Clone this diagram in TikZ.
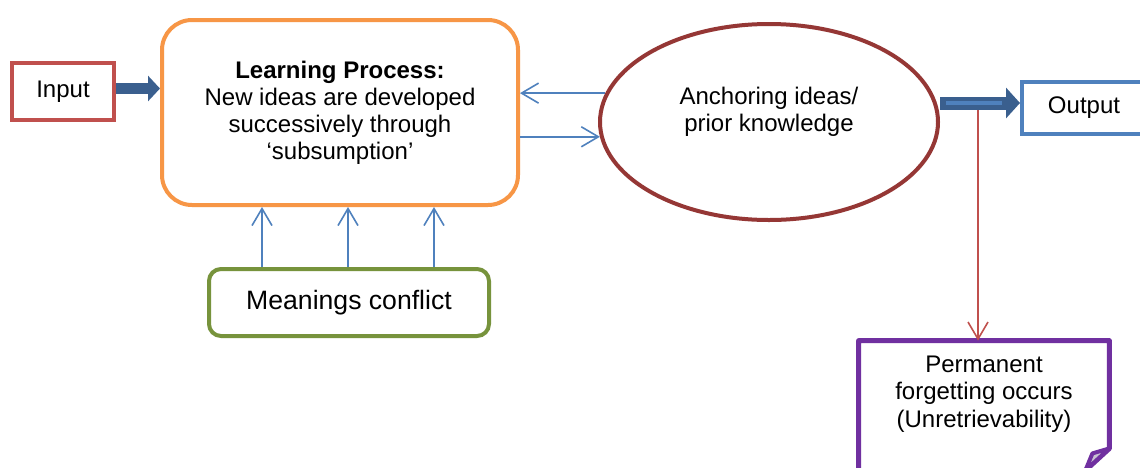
\documentclass[tikz,border=0pt]{standalone}
\usepackage{fontspec}
\setmainfont{Liberation Sans}
\usetikzlibrary{arrows.meta,shapes.geometric}
\definecolor{cRed}{HTML}{C0504D}
\definecolor{cOrange}{HTML}{F79646}
\definecolor{cMaroon}{HTML}{953735}
\definecolor{cGreen}{HTML}{77933C}
\definecolor{cBlue}{HTML}{4F81BD}
\definecolor{cNavy}{HTML}{3A5F8E}
\definecolor{cPurple}{HTML}{7030A0}
\definecolor{cFold}{HTML}{C9C2D3}
\tikzset{
  txt/.style={font=\fontsize{12}{13.5}\selectfont, align=center, inner sep=0pt},
  boxbase/.style={txt, draw, line width=2pt, fill=white},
  thinarrow/.style={draw=cBlue, line width=0.8pt, -{Straight Barb[length=8.5pt,width=10pt]}},
  redarrow/.style={draw=cRed, line width=0.8pt, -{Straight Barb[length=8.5pt,width=10pt]}},
  blockarrow/.style={draw=cNavy, line width=5.5pt, -{Triangle[length=6pt,width=12.5pt]}},
}
\begin{document}
\begin{tikzpicture}[x=0.5pt,y=-0.5pt]
\clip (0,0) rectangle (1140,467);
\useasboundingbox (0,0) rectangle (1140,467);
\fill[white] (0,0) rectangle (1140,467);

% boxes
\node[boxbase, draw=cRed, minimum width=51pt, minimum height=28.5pt] (input) at (63,91.5) {Input};
\node[boxbase, draw=cOrange, rounded corners=15pt, minimum width=178pt, minimum height=92.5pt] (learn) at (340,112.5)
  {\textbf{Learning Process:}\\New ideas are developed\\successively through\\‘subsumption’};
\node[ellipse, draw=cMaroon, line width=2pt, fill=white, inner sep=0pt, minimum width=169pt, minimum height=98pt,
  label={[txt, yshift=5pt]center:Anchoring ideas/\\prior knowledge}] (ell) at (769,122) {};
\node[boxbase, draw=cBlue, minimum width=62pt, minimum height=26pt] (out) at (1084,108) {Output};
\node[boxbase, draw=cGreen, rounded corners=6pt, minimum width=140pt, minimum height=33.5pt,
  font=\fontsize{13.3}{15}\selectfont] (mean) at (349,302.5) {Meanings conflict};
\node[txt, font=\fontsize{12}{13.75}\selectfont, minimum width=125pt, minimum height=53pt] (perm) at (984,394)
  {Permanent\\forgetting occurs\\(Unretrievability)};

% note-shaped outline with folded corner
\draw[cPurple, line width=2.5pt, line join=round]
  ([yshift=-20pt]perm.south west) -- (perm.north west) -- (perm.north east)
  -- ([yshift=-0.5pt]perm.south east) -- ++(-12pt,-11pt);
\draw[cPurple, line width=2pt, line join=round, fill=cFold]
  ([yshift=-0.5pt]perm.south east) -- ++(-8.5pt,-2.5pt) -- ++(-3.5pt,-8.5pt) -- cycle;

% block arrows
\draw[blockarrow] ([yshift=1.5pt]input.east) -- ([yshift=1.5pt]input.east -| learn.west);
\draw[blockarrow, line width=6.5pt, -{Triangle[length=7pt,width=15pt]}]
  ([yshift=2.5pt]ell.east |- out.west) -- ([yshift=2.5pt]out.west);
\draw[cBlue, line width=2pt]
  ([yshift=2.5pt,xshift=3pt]ell.east |- out.west) -- ([yshift=2.5pt,xshift=-9pt]out.west);

% thin connectors
\draw[thinarrow] (ell.170) -- (ell.170 -| learn.east);
\draw[thinarrow] (learn.east |- ell.185.5) -- (ell.185.5);
\foreach \dx in {-43.5pt,-0.5pt,42.5pt}
  \draw[thinarrow] ([xshift=\dx]mean.north) -- ([xshift=\dx]mean.north |- learn.south);

% branch to forgetting
\coordinate (split) at (978,110);
\draw[redarrow] (split) -- (split |- perm.north);
\end{tikzpicture}
\end{document}
